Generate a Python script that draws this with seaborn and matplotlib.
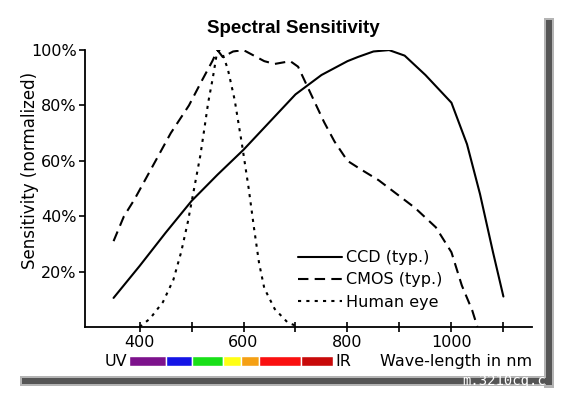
import numpy as np
import pandas as pd
import matplotlib
matplotlib.use('Agg')
from matplotlib import pyplot as plt
from matplotlib.patches import Rectangle
import seaborn as sns

# curves (wavelength in nm, sensitivity in %)
ccd_nm = [350, 400, 450, 500, 550, 600, 650, 700, 750, 800, 820, 850, 880, 910, 950, 1000, 1030, 1055, 1080, 1100]
ccd = [10.5, 22, 34, 45.5, 55, 64, 74, 84, 91, 96, 97.5, 99.5, 100, 98, 91, 81, 66, 48, 27, 11]

cmos_nm = [350, 370, 390, 425, 460, 495, 520, 540, 550, 560, 580, 600, 620, 640, 660, 690, 705, 715, 735,
           755, 775, 800, 825, 860, 895, 930, 970, 1000, 1020, 1040, 1050]
cmos = [31, 40, 46, 58, 70, 80, 89, 96, 100, 97.5, 99.5, 100, 98, 96, 95, 96, 94, 90, 82,
        74, 67, 60, 57, 53, 48, 43, 36, 27, 15, 6, 0]

eye_nm = [400, 420, 445, 465, 480, 493, 503, 517, 525, 532, 541, 548, 553, 560, 570, 583, 597, 610, 620,
          630, 640, 660, 685, 707]
eye = [0, 3, 9, 17, 27, 38, 48, 62, 72, 81, 90, 98, 100, 98.5, 93, 82, 66, 50, 36,
       23, 14, 6.5, 1.6, 0]

names = ['CCD (typ.)', 'CMOS (typ.)', 'Human eye']

# spectrum strip under the axis
band_edges = [380, 450, 500, 560, 595, 630, 710, 772]
band_colors = ['#7d128c', '#1414e6', '#19e019', '#ffff14', '#f5a014', '#fa1010', '#c80a0a']

df = pd.concat([
    pd.DataFrame({'nm': ccd_nm, 'sens': ccd, 'sensor': names[0]}),
    pd.DataFrame({'nm': cmos_nm, 'sens': cmos, 'sensor': names[1]}),
    pd.DataFrame({'nm': eye_nm, 'sens': eye, 'sensor': names[2]}),
])

sns.set_style('ticks')
plt.rcParams['font.family'] = ['DejaVu Sans']
plt.rcParams['text.color'] = 'black'
plt.rcParams['xtick.color'] = 'black'
plt.rcParams['ytick.color'] = 'black'
plt.rcParams['axes.labelcolor'] = 'black'

fig = plt.figure(figsize=(5.68, 3.95), dpi=100)
ax = fig.add_axes([0.1496, 0.1722, 0.787, 0.701])

sns.lineplot(data=df, x='nm', y='sens', style='sensor', style_order=names,
             dashes={names[0]: '', names[1]: (5, 3), names[2]: (1.5, 2.5)},
             color='black', lw=1.5, estimator=None, sort=False, ax=ax)

ax.set_xlim(295, 1155)
ax.set_ylim(0, 100)
ax.set_xticks(range(400, 1101, 100))
ax.set_xticklabels(['400', '', '600', '', '800', '', '1000', ''])
ax.set_yticks([20, 40, 60, 80, 100])
ax.set_yticklabels(['20%', '40%', '60%', '80%', '100%'])
ax.tick_params(axis='x', direction='inout', length=7, width=1.2, pad=2, labelsize=11.5)
ax.tick_params(axis='y', direction='out', length=4, width=1.2, pad=2, labelsize=11.5)
sns.despine(ax=ax)
for s in ['left', 'bottom']:
    ax.spines[s].set_linewidth(1.3)
    ax.spines[s].set_color('black')

ax.set_xlabel('')
ax.set_ylabel('Sensitivity (normalized)', fontsize=12)
ax.yaxis.set_label_coords(-0.103, 0.565)
ax.set_title('Spectral Sensitivity', fontsize=13.5, fontweight='bold', pad=12,
             family=['Liberation Sans', 'DejaVu Sans'])
ax.title.set_x(0.467)

handles, labels = ax.get_legend_handles_labels()
ax.legend(handles, labels, frameon=False, loc='upper left', bbox_to_anchor=(0.476, 0.277),
          borderaxespad=0, borderpad=0, fontsize=11.5, handlelength=2.8, handletextpad=0.2,
          labelspacing=0.45)

# colour strip
trans = ax.get_xaxis_transform()
ax.broken_barh([(band_edges[i], band_edges[i + 1] - band_edges[i]) for i in range(len(band_colors))],
               (-0.141, 0.036), facecolors=band_colors, transform=trans, clip_on=False)
ax.text(376, -0.123, 'UV', ha='right', va='center', fontsize=11.5, transform=trans)
ax.text(776, -0.123, 'IR', ha='left', va='center', fontsize=11.5, transform=trans)
ax.text(1.0, -0.123, 'Wave-length in nm', ha='right', va='center', fontsize=11.5, transform=ax.transAxes)

# drop shadow of the card
W, H = 568.0, 395.0
fig.patches.append(Rectangle((544 / W, 1 - 388 / H), 10 / W, 370 / H, transform=fig.transFigure,
                             facecolor='#b4b4b4', edgecolor='none'))
fig.patches.append(Rectangle((20 / W, 1 - 386 / H), 534 / W, 10 / H, transform=fig.transFigure,
                             facecolor='#b4b4b4', edgecolor='none'))
fig.patches.append(Rectangle((546 / W, 1 - 385 / H), 6 / W, 365 / H, transform=fig.transFigure,
                             facecolor='#555555', edgecolor='none'))
fig.patches.append(Rectangle((22 / W, 1 - 384 / H), 530 / W, 6 / H, transform=fig.transFigure,
                             facecolor='#555555', edgecolor='none'))
fig.text(462 / W, 1 - 381 / H, 'm.3210cq.c', color='white', fontsize=10, family='DejaVu Sans Mono',
         va='center', ha='left')

fig.savefig('out.png', dpi=100)
